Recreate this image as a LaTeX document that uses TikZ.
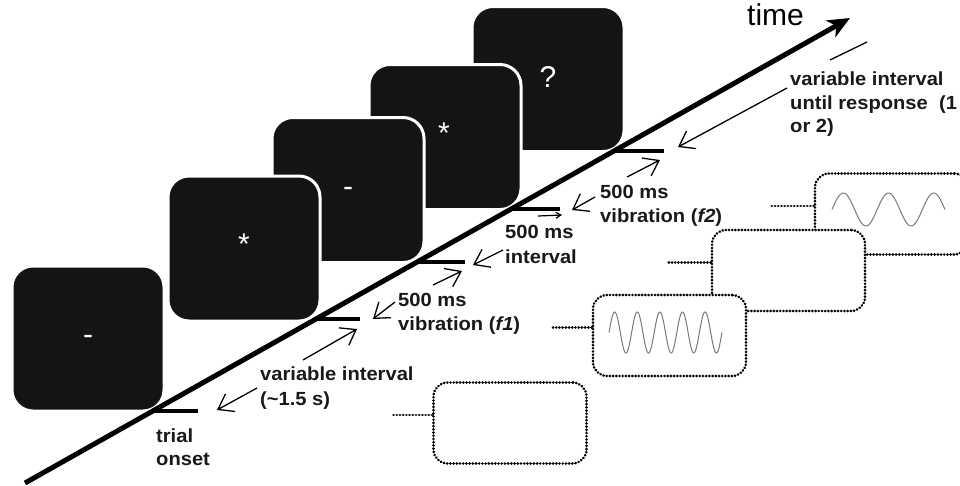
\documentclass[tikz,border=0pt]{standalone}
\usepackage{fontspec}
\setmainfont{Liberation Sans}
\newfontfamily\lblfont[FakeStretch=1.06]{Liberation Sans}
\usetikzlibrary{arrows.meta}
\definecolor{scr}{HTML}{141414}
\definecolor{wavegray}{HTML}{7A7A7A}
\begin{document}
\begin{tikzpicture}[x=1pt,y=-1pt,
  screen/.style={draw=white, fill=scr, line width=3pt, rounded corners=21pt, minimum width=152pt, minimum height=145pt, inner sep=0pt},
  sym/.style={anchor=base, inner sep=0pt, text=white, font=\fontsize{30}{36}\selectfont},
  lbl/.style={anchor=base west, inner sep=0pt, text=black!90, font=\lblfont\bfseries\fontsize{19}{23}\selectfont},
  bar/.style={line width=4.5pt},
  tarr/.style={line width=1.3pt, -{Straight Barb[length=14pt,width=20pt]}},
  dotline/.style={line width=2.9pt, line cap=round, dash pattern=on 0.01pt off 3.2pt},
  dbox/.style={draw, fill=white, dotline, rounded corners=14pt, minimum width=153pt, minimum height=81pt, inner sep=0pt},
  dlead/.style={dotline},
  wave/.style={wavegray, line width=1pt}]
\fill[white] (0,0) rectangle (960,485);
\useasboundingbox (0,0) rectangle (960,485);

% screens (back to front)
\node[screen] (s5) at (548,79) {};
\node[screen] (s4) at (445,137) {};
\node[screen] (s3) at (348,190) {};
\node[screen] (s2) at (244,248.5) {};
\node[screen] (s1) at (88,338.5) {};
\node[sym] (q5) at (548,87) {?};
\node[sym] (q4) at (444,143) {*};
\node[sym] (q3) at (348,196) {-};
\node[sym] (q2) at (244,254) {*};
\node[sym] (q1) at (88,344) {-};

% time axis
\coordinate (t0) at (25,483);
\coordinate (t1) at (850,18);
\draw[line width=5pt, -{Stealth[length=22pt,width=19pt,inset=6pt]}] (t0) -- (t1);
\node[anchor=base west, inner sep=0pt, font=\fontsize{30}{36}\selectfont] (time) at (747,25) {time};

% tick bars
\coordinate (b1s) at (152.8,411); \coordinate (b1e) at (198,411);
\coordinate (b2s) at (316,319);   \coordinate (b2e) at (360,319);
\coordinate (b3s) at (417,262);   \coordinate (b3e) at (465,262);
\coordinate (b4s) at (511,209);   \coordinate (b4e) at (560,209);
\coordinate (b5s) at (614,151);   \coordinate (b5e) at (664,151);
\foreach \i in {1,...,5} \draw[bar] (b\i s) -- (b\i e);

% thin arrows
\coordinate (a1s) at (257,388); \coordinate (a1e) at (217,410);
\coordinate (a2s) at (303,360); \coordinate (a2e) at (357,329);
\coordinate (a3s) at (395,302); \coordinate (a3e) at (373,319);
\coordinate (a4s) at (433,285); \coordinate (a4e) at (462,271);
\coordinate (a5s) at (503,250); \coordinate (a5e) at (473,265);
\coordinate (a7s) at (595,197); \coordinate (a7e) at (572,210);
\coordinate (a8s) at (627,177); \coordinate (a8e) at (660,160);
\coordinate (a9s) at (787,88);  \coordinate (a9e) at (678,147);
\foreach \i in {1,2,3,4,5,7,8,9} \draw[tarr] (a\i s) -- (a\i e);
\coordinate (a6s) at (538,216); \coordinate (a6e) at (562,215);
\draw[line width=1.2pt, -{Straight Barb[length=5pt,width=6pt]}] (a6s) -- (a6e);
\coordinate (g1) at (830,60); \coordinate (g2) at (867,42);
\draw[line width=1.3pt] (g1) -- (g2);

% labels
\node[lbl] (l1a) at (156,442) {trial};
\node[lbl] (l1b) at (156,465) {onset};
\node[lbl] (l2a) at (260,380) {variable interval};
\node[lbl] (l2b) at (260,405) {(\textasciitilde1.5 s)};
\node[lbl] (l3a) at (398,306) {500 ms};
\node[lbl] (l3b) at (398,330) {vibration (\textit{f1})};
\node[lbl] (l4a) at (505,238) {500 ms};
\node[lbl] (l4b) at (505,263) {interval};
\node[lbl] (l5a) at (600,198) {500 ms};
\node[lbl] (l5b) at (600,222) {vibration (\textit{f2})};
\node[lbl] (l6a) at (790,85) {variable interval};
\node[lbl] (l6b) at (790,109) {until response\ \ (1};
\node[lbl] (l6c) at (790,132) {or 2)};

% dotted stimulus boxes (back to front)
\node[dbox] (D) at (891.5,214) {};
\draw[wave] plot[domain=0:113, samples=160] ({832+\x}, {209.5-16.5*sin(\x/45.2*360)});
\draw[dlead] ([yshift=8pt]D.west) -- ++(-42,0);
\node[dbox] (C) at (788.5,270.5) {};
\draw[dlead] ([yshift=8pt]C.west) -- ++(-42,0);
\node[dbox] (B) at (669.5,335.5) {};
\draw[wave] plot[domain=0:113, samples=260] ({609+\x}, {332.5-20.5*sin(\x/22.6*360)});
\draw[dlead] ([yshift=8pt]B.west) -- ++(-41,0);
\node[dbox] (A) at (510,423) {};
\draw[dlead] ([yshift=8pt]A.west) -- ++(-40,0);
\end{tikzpicture}
\end{document}
